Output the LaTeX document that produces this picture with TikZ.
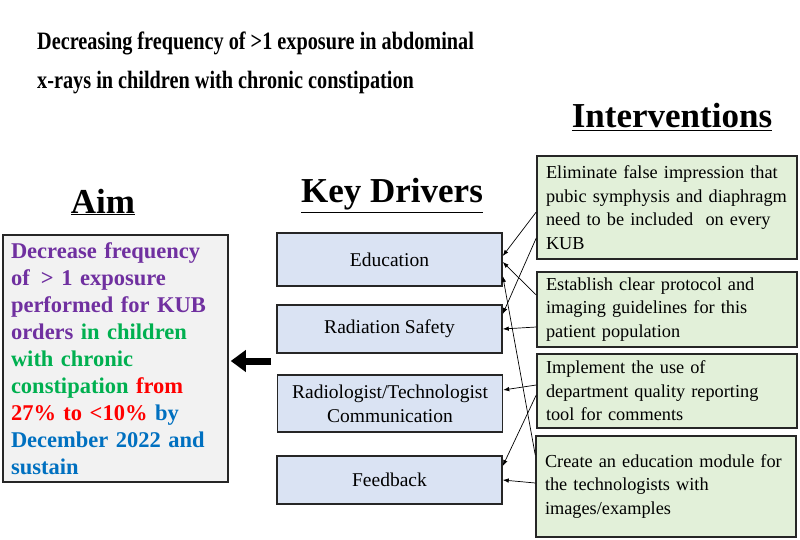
\documentclass[tikz,border=0pt]{standalone}
\usepackage{fontspec}
\setmainfont{Liberation Serif}
\usepackage{graphicx}
\usepackage{tikz}
\usetikzlibrary{arrows.meta}

\definecolor{boxline}{HTML}{262626}
\definecolor{aimfill}{HTML}{F2F2F2}
\definecolor{driverfill}{HTML}{DAE3F3}
\definecolor{intervfill}{HTML}{E2F0D9}
\definecolor{aimpurple}{HTML}{7030A0}
\definecolor{aimgreen}{HTML}{00B050}
\definecolor{aimred}{HTML}{FF0000}
\definecolor{aimblue}{HTML}{0070C0}

\begin{document}
\begin{tikzpicture}[x=1pt, y=-1pt,
    box/.style={draw=boxline, line width=1.5pt, inner sep=0pt},
    driver/.style={box, fill=driverfill, minimum width=225pt, align=center, font=\fontsize{19.5}{24}\selectfont},
    interv/.style={box, fill=intervfill, inner xsep=9pt, text width=242pt, align=left, font=\fontsize{18.3}{23.5}\selectfont},
    heading/.style={font=\fontsize{35}{40}\selectfont\bfseries, inner sep=0pt, anchor=base},
    titleline/.style={font=\fontsize{25}{40}\selectfont\bfseries, inner sep=0pt, anchor=base west},
    link/.style={-{Latex[length=6pt,width=4.5pt]}, line width=0.7pt}]
    \useasboundingbox (0,0) rectangle (800,540);

    % Title
    \node[titleline] (title1) at (37,50) {\scalebox{0.81}[1]{Decreasing frequency of >1 exposure in abdominal}};
    \node[titleline] (title2) at (37,89) {\scalebox{0.81}[1]{x-rays in children with chronic constipation}};

    % Column headings
    \node[heading] (aimhead) at (103,213) {\underline{Aim}};
    \node[heading] (drivehead) at (392,203) {\underline{Key Drivers}};
    \node[heading] (intervhead) at (672,128) {\underline{Interventions}};

    % Aim box
    \node[box, fill=aimfill, minimum width=225pt, minimum height=247pt, inner xsep=8pt, text width=209pt,
          align=left, font=\fontsize{22.5}{27}\selectfont\bfseries] (aim) at (115.5,358.5)
        {\textcolor{aimpurple}{Decrease frequency}\\
         \textcolor{aimpurple}{of \,> 1 exposure}\\
         \textcolor{aimpurple}{performed for KUB}\\
         \textcolor{aimpurple}{orders} \textcolor{aimgreen}{in children}\\
         \textcolor{aimgreen}{with chronic}\\
         \textcolor{aimgreen}{constipation} \textcolor{aimred}{from}\\
         \textcolor{aimred}{27\% to <10\%} \textcolor{aimblue}{by}\\
         \textcolor{aimblue}{December 2022 and}\\
         \textcolor{aimblue}{sustain}};

    % Key drivers
    \node[driver, minimum height=53pt] (edu) at (389.5,259.5) {Education};
    \node[driver, minimum height=48pt] (rs) at (389.5,329) {Radiation Safety};
    \node[driver, minimum height=57pt] (rc) at (390,403.5) {Radiologist/Technologist\\Communication};
    \node[driver, minimum height=48pt] (fb) at (389.5,480) {Feedback};

    % Interventions
    \node[interv, minimum height=103pt] (i1) at (667,207.5)
        {Eliminate false impression that\\pubic symphysis and diaphragm\\need to be included \ on every\\KUB};
    \node[interv, minimum height=75pt] (i2) at (667,309.5)
        {Establish clear protocol and\\imaging guidelines for this\\patient population};
    \node[interv, minimum height=74pt] (i3) at (667,391)
        {Implement the use of\\department quality reporting\\tool for comments};
    \node[interv, minimum height=101pt] (i4) at (666,486.5)
        {\mbox{Create an education module for}\\the technologists with\\images/examples};

    % Big arrow into the aim
    \coordinate (push) at (271,361);
    \draw[line width=7pt, -{Triangle[length=15pt,width=21pt]}, shorten >=2pt] (push) -- (aim.east |- push);

    % Interventions to drivers
    \draw[link] ([yshift=-4.5pt]i1.west) -- ([yshift=3.5pt]edu.east);
    \draw[link] ([yshift=-30.5pt]i1.west) -- ([yshift=15pt]rs.east);
    \draw[link] ([yshift=14.5pt]i2.west) -- ([yshift=-2.5pt]edu.east);
    \draw[link] ([yshift=-17.5pt]i2.west) -- (rs.east);
    \draw[link] ([yshift=6pt]i3.west) -- ([yshift=13.5pt]rc.east);
    \draw[link] ([yshift=-4pt]i3.west) -- ([yshift=14pt]fb.east);
    \draw[link] ([yshift=31.5pt]i4.west) -- ([yshift=-16.5pt]edu.east);
    \draw[link] ([yshift=3.5pt]i4.west) -- (fb.east);
\end{tikzpicture}
\end{document}
